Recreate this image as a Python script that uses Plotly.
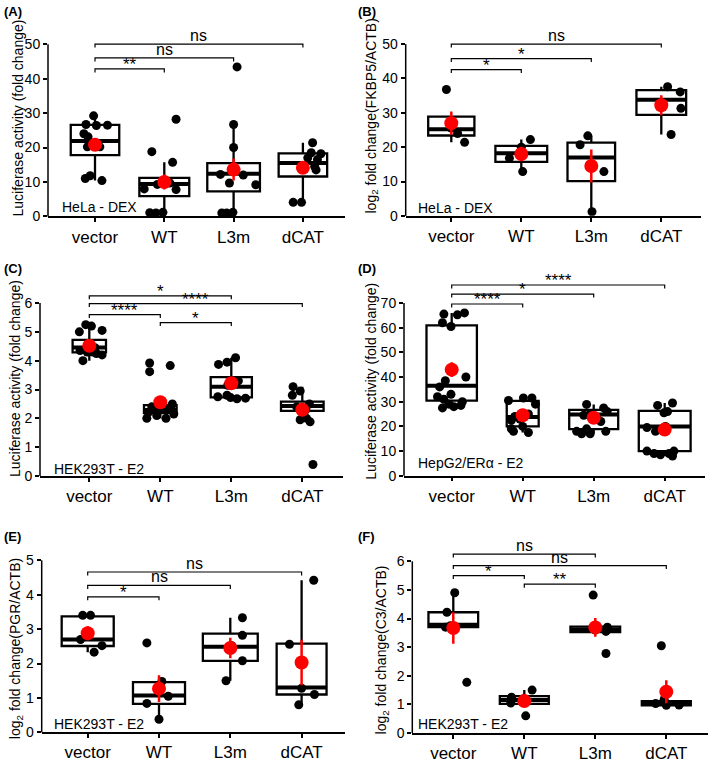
import plotly.graph_objects as go

categories = ["vector", "WT", "L3m", "dCAT"]

# ---------------- Panel A ----------------
A_values = [[29.2, 26.7, 26.4, 26.5, 24.0, 23.1, 21.0, 20.2, 20.2, 11.8, 11.0, 10.4],
            [28.2, 18.8, 15.7, 9.7, 9.3, 8.0, 7.8, 1.2, 1.1, 1.0],
            [43.4, 26.7, 20.0, 12.2, 12.0, 9.7, 9.2, 1.2, 1.0, 1.0],
            [21.4, 18.5, 18.2, 17.0, 16.5, 14.5, 13.5, 4.1, 4.1]]
A_jitter = [[-0.02, -0.13, 0.02, 0.18, -0.16, -0.10, 0.0, -0.11, 0.07, -0.07, -0.14, 0.10],
            [0.17, -0.18, 0.12, 0.08, -0.10, -0.29, 0.17, -0.02, -0.21, -0.12],
            [0.05, 0.0, 0.0, -0.19, 0.14, -0.06, 0.32, -0.01, -0.17, -0.10],
            [0.14, 0.12, 0.26, 0.07, 0.21, 0.17, 0.19, -0.14, -0.02]]
A_q1 = [17.8, 5.9, 7.3, 11.6]
A_median = [21.9, 9.45, 12.4, 15.5]
A_q3 = [26.6, 11.2, 15.5, 18.3]
A_low = [10.4, 1.1, 1.0, 4.1]
A_high = [29.2, 15.7, 26.7, 21.4]
A_mean = [20.8, 10.0, 13.6, 14.1]
A_sem = [1.8, 2.2, 3.2, 1.7]
A_sig = [(0, 3, 50.0, "ns"), (0, 2, 46.0, "ns"), (0, 1, 42.8, "**")]
A_yticks = [0, 10, 20, 30, 40, 50]

# ---------------- Panel B ----------------
B_values = [[36.8, 25.6, 24.0, 21.4],
            [22.2, 20.0, 16.8, 12.9],
            [23.3, 20.7, 12.9, 1.2],
            [37.6, 36.1, 31.3, 23.7]]
B_jitter = [[-0.07, 0.0, 0.09, 0.19],
            [0.13, 0.0, -0.17, 0.02],
            [-0.05, -0.16, 0.18, 0.01],
            [0.09, 0.27, 0.28, 0.14]]
B_q1 = [23.4, 15.7, 10.1, 29.4]
B_median = [25.2, 18.2, 17.0, 33.8]
B_q3 = [28.9, 20.4, 21.3, 36.6]
B_low = [21.4, 12.9, 1.2, 23.7]
B_high = [28.9, 22.2, 23.3, 37.6]
B_mean = [27.0, 18.0, 14.5, 32.2]
B_sem = [3.4, 2.1, 4.8, 2.9]
B_sig = [(0, 3, 50.0, "ns"), (0, 2, 45.8, "*"), (0, 1, 42.6, "*")]
B_yticks = [0, 10, 20, 30, 40, 50]

# ---------------- Panel C ----------------
C_values = [[5.25, 5.2, 5.0, 5.05, 4.45, 4.4, 4.35, 4.3, 4.25, 4.2, 4.0, 4.3],
            [3.92, 3.62, 3.83, 2.5, 2.4, 2.35, 2.3, 2.2, 2.15, 2.0, 2.0, 2.1],
            [4.1, 3.95, 3.87, 3.3, 3.15, 2.8, 2.75, 2.72, 2.68, 2.7],
            [3.1, 2.95, 2.8, 2.5, 2.4, 2.3, 2.0, 1.95, 1.88, 0.4]]
C_jitter = [[-0.05, 0.03, -0.14, 0.18, 0.08, -0.04, -0.13, -0.03, 0.10, 0.18, -0.09, 0.05],
            [-0.15, -0.15, 0.14, 0.17, -0.12, 0.10, -0.05, -0.17, 0.19, -0.19, 0.08, -0.05],
            [0.06, -0.06, -0.18, 0.10, -0.05, -0.06, -0.19, -0.01, 0.08, 0.20],
            [-0.13, -0.03, -0.14, 0.10, -0.08, 0.05, 0.06, -0.03, 0.11, 0.15]]
C_q1 = [4.29, 2.18, 2.73, 2.26]
C_median = [4.46, 2.29, 3.10, 2.43]
C_q3 = [4.72, 2.46, 3.43, 2.58]
C_low = [4.0, 2.0, 2.68, 1.88]
C_high = [5.25, 2.5, 4.1, 3.1]
C_mean = [4.52, 2.56, 3.22, 2.3]
C_sem = [0.1, 0.2, 0.15, 0.2]
C_sig = [(0, 2, 6.25, "*"), (0, 3, 5.98, "****"), (0, 1, 5.6, "****"), (1, 2, 5.32, "*")]
C_yticks = [0, 1, 2, 3, 4, 5, 6]

# ---------------- Panel D ----------------
D_values = [[65.5, 66.0, 65.2, 62.0, 60.5, 40.0, 38.5, 36.0, 33.0, 32.0, 31.0, 30.0, 29.0, 28.5, 28.0, 27.5],
            [31.5, 30.5, 31.5, 29.0, 25.0, 24.0, 23.0, 22.5, 20.0, 19.0, 18.0, 17.5],
            [28.9, 27.5, 26.0, 25.0, 24.5, 23.0, 22.0, 19.0, 18.0, 18.0, 17.0, 17.0],
            [29.5, 28.5, 26.0, 25.5, 20.0, 19.5, 18.0, 10.0, 10.0, 9.0, 9.0, 8.5, 8.0]]
D_jitter = [[-0.11, 0.18, 0.08, -0.13, -0.01, 0.20, -0.09, -0.17, -0.01, -0.20, -0.11, 0.15, -0.04, 0.13, 0.03, -0.13],
            [0.01, -0.20, 0.13, 0.18, 0.08, -0.11, -0.04, -0.16, 0.0, -0.16, -0.13, 0.08],
            [-0.10, 0.14, 0.19, -0.05, -0.14, 0.05, 0.10, -0.10, -0.24, 0.17, -0.17, -0.05],
            [0.11, -0.10, 0.04, -0.01, 0.01, -0.25, -0.13, -0.25, 0.13, -0.15, 0.06, -0.06, 0.11]]
D_q1 = [30.4, 20.0, 18.9, 10.0]
D_median = [36.5, 23.8, 24.8, 20.0]
D_q3 = [60.9, 30.3, 26.7, 26.3]
D_low = [27.5, 17.5, 17.0, 8.0]
D_high = [66.0, 31.5, 28.9, 29.5]
D_mean = [43.0, 24.5, 23.5, 18.7]
D_sem = [3.0, 1.5, 1.3, 2.3]
D_sig = [(0, 3, 77.3, "****"), (0, 2, 73.6, "*"), (0, 1, 69.6, "****")]
D_yticks = [0, 10, 20, 30, 40, 50, 60, 70]

# ---------------- Panel E ----------------
E_values = [[3.4, 3.4, 2.7, 2.52, 2.33],
            [2.6, 1.48, 1.05, 0.84, 0.38],
            [3.33, 2.82, 2.52, 2.08, 1.5],
            [4.42, 2.56, 1.28, 1.1, 0.8]]
E_jitter = [[-0.07, 0.04, -0.10, 0.20, 0.09],
            [-0.17, 0.04, 0.13, -0.17, 0.0],
            [0.17, 0.17, 0.02, 0.17, -0.06],
            [0.17, -0.17, 0.0, 0.18, -0.04]]
E_q1 = [2.51, 0.83, 2.08, 1.1]
E_median = [2.7, 1.07, 2.49, 1.3]
E_q3 = [3.37, 1.46, 2.87, 2.58]
E_low = [2.33, 0.38, 1.5, 0.8]
E_high = [3.4, 1.48, 3.33, 4.42]
E_mean = [2.88, 1.27, 2.45, 2.03]
E_sem = [0.2, 0.39, 0.3, 0.66]
E_sig = [(0, 3, 4.66, "ns"), (0, 2, 4.27, "ns"), (0, 1, 3.94, "*")]
E_yticks = [0, 1, 2, 3, 4, 5]

# ---------------- Panel F ----------------
F_values = [[4.9, 4.22, 3.75, 3.7, 1.77],
            [1.5, 1.25, 1.2, 1.05, 0.6],
            [4.82, 3.7, 3.6, 3.55, 2.78],
            [3.05, 1.17, 1.03, 0.98, 0.97]]
F_jitter = [[0.02, -0.09, -0.04, -0.11, 0.19],
            [0.11, -0.18, -0.01, -0.19, 0.02],
            [-0.03, 0.17, 0.0, 0.15, 0.15],
            [-0.07, -0.03, -0.15, 0.18, 0.0]]
F_q1 = [3.7, 1.02, 3.53, 0.97]
F_median = [3.78, 1.15, 3.62, 1.05]
F_q3 = [4.22, 1.29, 3.72, 1.11]
F_low = [3.7, 1.02, 3.53, 0.97]
F_high = [4.9, 1.5, 3.72, 1.11]
F_mean = [3.67, 1.12, 3.69, 1.44]
F_sem = [0.55, 0.17, 0.33, 0.4]
F_sig = [(0, 2, 6.25, "ns"), (0, 3, 5.85, "ns"), (0, 1, 5.5, "*"), (1, 2, 5.2, "**")]
F_yticks = [0, 1, 2, 3, 4, 5, 6]

# ---------------- texts ----------------
LUC = "Luciferase activity (fold change)"
panels = [
    dict(tag="(A)", title=LUC, label="HeLa - DEX",
         values=A_values, jitter=A_jitter, q1=A_q1, median=A_median, q3=A_q3, low=A_low, high=A_high,
         mean=A_mean, sem=A_sem, sig=A_sig, yticks=A_yticks),
    dict(tag="(B)", title="log<sub>2</sub> fold change(FKBP5/ACTB)", label="HeLa - DEX",
         values=B_values, jitter=B_jitter, q1=B_q1, median=B_median, q3=B_q3, low=B_low, high=B_high,
         mean=B_mean, sem=B_sem, sig=B_sig, yticks=B_yticks),
    dict(tag="(C)", title=LUC, label="HEK293T - E2",
         values=C_values, jitter=C_jitter, q1=C_q1, median=C_median, q3=C_q3, low=C_low, high=C_high,
         mean=C_mean, sem=C_sem, sig=C_sig, yticks=C_yticks),
    dict(tag="(D)", title=LUC, label="HepG2/ERα - E2",
         values=D_values, jitter=D_jitter, q1=D_q1, median=D_median, q3=D_q3, low=D_low, high=D_high,
         mean=D_mean, sem=D_sem, sig=D_sig, yticks=D_yticks),
    dict(tag="(E)", title="log<sub>2</sub> fold change(PGR/ACTB)", label="HEK293T - E2",
         values=E_values, jitter=E_jitter, q1=E_q1, median=E_median, q3=E_q3, low=E_low, high=E_high,
         mean=E_mean, sem=E_sem, sig=E_sig, yticks=E_yticks),
    dict(tag="(F)", title="log<sub>2</sub> fold change(C3/ACTB)", label="HEK293T - E2",
         values=F_values, jitter=F_jitter, q1=F_q1, median=F_median, q3=F_q3, low=F_low, high=F_high,
         mean=F_mean, sem=F_sem, sig=F_sig, yticks=F_yticks),
]

# ---------------- layout geometry (pixels) ----------------
W, H = 709, 766
geoms = [
    dict(left=48, right=345, c0=95, sp=69.3, y0=217.3, ttop=42.7, top=28,
         tagxy=(2, 10), titlexy=(18, 118), labelxy=(60, 208)),
    dict(left=405.7, right=700.7, c0=451.3, sp=70, y0=216.7, ttop=42.7, top=28,
         tagxy=(356, 10), titlexy=(372, 116), labelxy=(415.7, 209)),
    dict(left=40, right=343.3, c0=89.3, sp=71, y0=480.3, ttop=305, top=290,
         tagxy=(2, 270), titlexy=(15, 382), labelxy=(51.7, 473)),
    dict(left=404, right=705, c0=451.7, sp=71, y0=480, ttop=305, top=280,
         tagxy=(356, 270), titlexy=(370.7, 384), labelxy=(415.7, 467)),
    dict(left=41.7, right=345, c0=87.7, sp=71.3, y0=740, ttop=565.7, top=560,
         tagxy=(2, 542), titlexy=(16.7, 655), labelxy=(51.7, 731.5)),
    dict(left=412.3, right=708, c0=453.3, sp=71, y0=740.7, ttop=566.7, top=550,
         tagxy=(356, 542), titlexy=(382, 657), labelxy=(415.7, 731.5)),
]
box_widths = [
    [0.70, 0.72, 0.76, 0.70],
    [0.66, 0.74, 0.68, 0.71],
    [0.47, 0.46, 0.58, 0.60],
    [0.71, 0.45, 0.69, 0.73],
    [0.73, 0.73, 0.77, 0.70],
    [0.70, 0.69, 0.70, 0.69],
]

FONT = "Liberation Sans, Arial, Helvetica, sans-serif"
fig = go.Figure()
layout_axes = {}
shapes = []
annotations = []

for k, (p, g) in enumerate(zip(panels, geoms)):
    n = k + 1
    sx = "" if n == 1 else str(n)
    xa, ya = "x" + sx, "y" + sx
    scale = (g["y0"] - g["ttop"]) / p["yticks"][-1]
    rmin = 0.0
    rmax = (g["y0"] - g["top"]) / scale
    xr = [(g["left"] - g["c0"]) / g["sp"], (g["right"] - g["c0"]) / g["sp"]]

    for j in range(4):
        w = box_widths[k][j]
        fig.add_trace(go.Box(
            x=[j], q1=[p["q1"][j]], median=[p["median"][j]], q3=[p["q3"][j]],
            lowerfence=[p["low"][j]], upperfence=[p["high"][j]],
            width=w, whiskerwidth=0, fillcolor="white",
            line=dict(color="black", width=2.3), boxpoints=False,
            xaxis=xa, yaxis=ya, showlegend=False, hoverinfo="skip"))
        fig.add_trace(go.Scatter(
            x=[j - w / 2, j + w / 2], y=[p["median"][j]] * 2, mode="lines",
            line=dict(color="black", width=4), xaxis=xa, yaxis=ya,
            showlegend=False, hoverinfo="skip"))
    for j in range(4):
        fig.add_trace(go.Scatter(
            x=[j + o for o in p["jitter"][j]], y=p["values"][j], mode="markers",
            marker=dict(size=9, color="black"), xaxis=xa, yaxis=ya,
            showlegend=False, hoverinfo="skip"))
    fig.add_trace(go.Scatter(
        x=list(range(4)), y=p["mean"], mode="markers",
        marker=dict(size=14, color="#ff0000"),
        error_y=dict(type="data", array=p["sem"], color="#ff0000", thickness=2.5, width=0),
        xaxis=xa, yaxis=ya, showlegend=False, hoverinfo="skip"))

    layout_axes["xaxis" + sx] = dict(
        domain=[g["left"] / W, g["right"] / W], range=xr, anchor=ya,
        tickvals=list(range(4)), ticktext=categories, ticks="outside", ticklen=4,
        tickwidth=1.5, tickcolor="black", showline=True, linewidth=1.5, linecolor="black",
        showgrid=False, zeroline=False, tickfont=dict(size=17, color="black", family=FONT),
        fixedrange=True)
    layout_axes["yaxis" + sx] = dict(
        domain=[1 - g["y0"] / H, 1 - g["top"] / H], range=[rmin, rmax], anchor=xa,
        tickvals=p["yticks"], ticks="outside", ticklen=4, tickwidth=1.5, tickcolor="black",
        showline=False, showgrid=False, zeroline=False,
        tickfont=dict(size=14, color="black", family=FONT), fixedrange=True)

    # y axis line up to top tick
    frac = (p["yticks"][-1] - rmin) / (rmax - rmin)
    shapes.append(dict(type="line", xref=xa + " domain", yref=ya + " domain",
                       x0=0, x1=0, y0=0, y1=frac, line=dict(color="black", width=1.5)))

    # significance brackets
    drop = 3.5 / scale
    for (a, b, yv, lab) in p["sig"]:
        shapes.append(dict(type="path", xref=xa, yref=ya,
                           path=f"M {a},{yv - drop} L {a},{yv} L {b},{yv} L {b},{yv - drop}",
                           line=dict(color="black", width=1.2)))
        star = lab != "ns"
        annotations.append(dict(xref=xa, yref=ya, x=(a + b) / 2, y=yv, text=lab,
                                showarrow=False, yanchor="bottom",
                                yshift=-7 if star else -2,
                                font=dict(size=17 if star else 16, color="black", family=FONT)))

    # panel tag, y title, inner label
    tx, ty = g["tagxy"]
    annotations.append(dict(xref="paper", yref="paper", x=tx / W, y=1 - ty / H, text="<b>" + p["tag"] + "</b>",
                            showarrow=False, xanchor="left", yanchor="middle",
                            font=dict(size=13, color="black", family=FONT)))
    tx, ty = g["titlexy"]
    annotations.append(dict(xref="paper", yref="paper", x=tx / W, y=1 - ty / H, text=p["title"],
                            showarrow=False, xanchor="center", yanchor="middle", textangle=-90,
                            font=dict(size=14, color="black", family=FONT)))
    tx, ty = g["labelxy"]
    annotations.append(dict(xref="paper", yref="paper", x=tx / W, y=1 - ty / H, text=p["label"],
                            showarrow=False, xanchor="left", yanchor="middle",
                            font=dict(size=14, color="black", family=FONT)))

fig.update_layout(
    width=W, height=H, margin=dict(l=0, r=0, t=0, b=0),
    paper_bgcolor="white", plot_bgcolor="white", showlegend=False,
    boxmode="overlay", shapes=shapes, annotations=annotations,
    font=dict(family=FONT, color="black"), **layout_axes)

fig.write_html("out.html")
